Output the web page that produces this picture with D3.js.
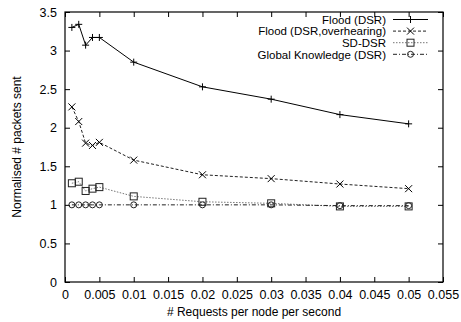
<!DOCTYPE html>
<html><head><meta charset="utf-8">
<script src="https://cdn.jsdelivr.net/npm/d3@7/dist/d3.min.js"></script>
<style>body{margin:0;background:#fff}svg{display:block}text{font-family:"Liberation Sans",Arial,sans-serif;fill:#000}</style>
</head><body><svg id="c" width="461" height="322"></svg>
<script>
const xValues = [0.001,0.002,0.003,0.004,0.005,0.01,0.02,0.03,0.04,0.05];
const floodDSR = [3.30,3.34,3.07,3.17,3.17,2.85,2.53,2.37,2.17,2.05];
const floodOverhearing = [2.27,2.08,1.80,1.77,1.81,1.58,1.39,1.34,1.27,1.21];
const sdDSR = [1.28,1.30,1.18,1.21,1.23,1.11,1.04,1.02,0.98,0.98];
const globalKnowledge = [1.0,1.0,1.0,1.0,1.0,1.0,1.0,1.0,0.99,0.99];
const seriesNames = ["Flood (DSR)","Flood (DSR,overhearing)","SD-DSR","Global Knowledge (DSR)"];
const xTicks = [0,0.005,0.01,0.015,0.02,0.025,0.03,0.035,0.04,0.045,0.05,0.055];
const yTicks = [0,0.5,1,1.5,2,2.5,3,3.5];

const svg = d3.select("#c");
const L=65,R=443,T=12,B=282;
const x = d3.scaleLinear().domain([0,0.055]).range([L,R]);
const y = d3.scaleLinear().domain([0,3.5]).range([B,T]);

const fmt = d => String(+d.toFixed(3));
const gB = svg.append("g").attr("transform",`translate(0,${B})`)
  .call(d3.axisBottom(x).tickValues(xTicks).tickSize(-5).tickPadding(8.5).tickFormat(fmt));
const gT = svg.append("g").attr("transform",`translate(0,${T})`)
  .call(d3.axisTop(x).tickValues(xTicks).tickSize(-5).tickFormat(""));
const gL = svg.append("g").attr("transform",`translate(${L},0)`)
  .call(d3.axisLeft(y).tickValues(yTicks).tickSize(-5).tickPadding(8).tickFormat(d=>String(d)));
const gR = svg.append("g").attr("transform",`translate(${R},0)`)
  .call(d3.axisRight(y).tickValues(yTicks).tickSize(-5).tickFormat(""));
[gB,gT,gL,gR].forEach(g=>{g.select(".domain").remove();g.selectAll("line").attr("stroke","#000");
  g.selectAll("text").attr("font-size",12.5).attr("font-family","Liberation Sans, Arial, sans-serif");});
svg.append("rect").attr("x",L).attr("y",T).attr("width",R-L).attr("height",B-T)
  .attr("fill","none").attr("stroke","#000").attr("stroke-width",1.2);

svg.append("text").attr("x",254).attr("y",316).attr("text-anchor","middle").attr("font-size",12)
  .text("# Requests per node per second");
svg.append("text").attr("transform","translate(21,147) rotate(-90)").attr("text-anchor","middle").attr("font-size",12)
  .text("Normalised # packets sent");

const series = [
  {vals:floodDSR, color:"#000", dash:null, marker:"plus"},
  {vals:floodOverhearing, color:"#222", dash:"3,2", marker:"cross"},
  {vals:sdDSR, color:"#777", dash:"1.5,1.5", marker:"square"},
  {vals:globalKnowledge, color:"#222", dash:"4,2,1,2", marker:"circle"}
];
function marker(g,type,cx,cy){
  const s=3.5;
  if(type==="plus"){g.append("path").attr("d",`M${cx-s},${cy}H${cx+s}M${cx},${cy-s}V${cy+s}`).attr("stroke","#000").attr("stroke-width",1);}
  else if(type==="cross"){g.append("path").attr("d",`M${cx-s},${cy-s}L${cx+s},${cy+s}M${cx-s},${cy+s}L${cx+s},${cy-s}`).attr("stroke","#000").attr("stroke-width",1);}
  else if(type==="square"){g.append("rect").attr("x",cx-s).attr("y",cy-s).attr("width",2*s).attr("height",2*s).attr("fill","none").attr("stroke","#222").attr("stroke-width",1);}
  else {g.append("circle").attr("cx",cx).attr("cy",cy).attr("r",3).attr("fill","none").attr("stroke","#222").attr("stroke-width",1);}
}
const line = d3.line().x((d,i)=>x(xValues[i])).y(d=>y(d));
series.forEach((s,k)=>{
  const g = svg.append("g");
  g.append("path").attr("d",line(s.vals)).attr("fill","none").attr("stroke",s.color)
    .attr("stroke-width",1).attr("stroke-dasharray",s.dash);
  s.vals.forEach((v,i)=>marker(g,s.marker,x(xValues[i]),y(v)));
  const ly = 19.5 + k*11.6;
  svg.append("text").attr("x",386).attr("y",ly+4.2).attr("text-anchor","end").attr("font-size",11.5).text(seriesNames[k]);
  g.append("line").attr("x1",393).attr("x2",428).attr("y1",ly).attr("y2",ly).attr("stroke",s.color)
    .attr("stroke-width",1).attr("stroke-dasharray",s.dash);
  marker(g,s.marker,410.5,ly);
});
</script></body></html>
